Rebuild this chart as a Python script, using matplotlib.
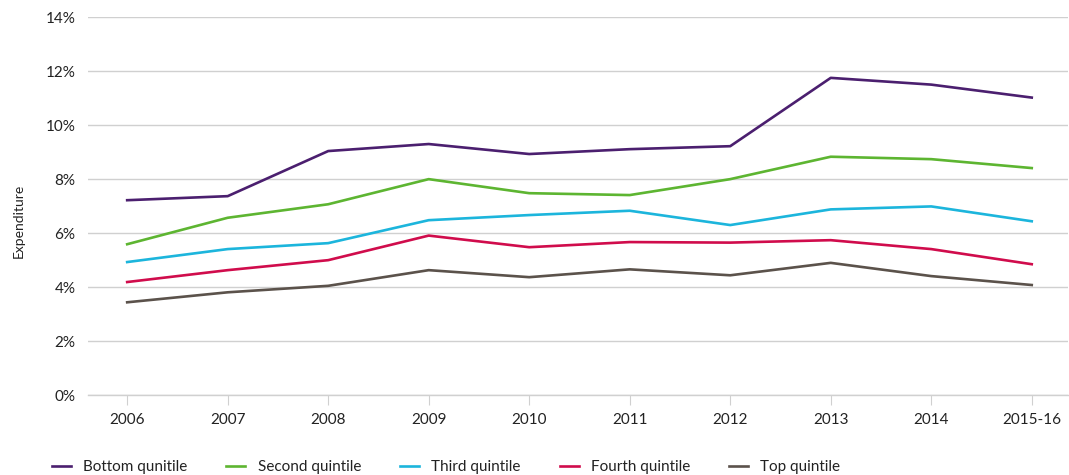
import matplotlib.pyplot as plt
from matplotlib.ticker import FuncFormatter

plt.rcParams["font.family"] = ["Lato", "DejaVu Sans"]

years = ["2006", "2007", "2008", "2009", "2010", "2011", "2012", "2013", "2014", "2015-16"]
bottom = [7.22, 7.37, 9.04, 9.30, 8.93, 9.11, 9.22, 11.75, 11.50, 11.02]
second = [5.59, 6.57, 7.07, 8.00, 7.48, 7.41, 8.00, 8.83, 8.74, 8.41]
third = [4.93, 5.41, 5.63, 6.48, 6.67, 6.83, 6.30, 6.88, 6.99, 6.44]
fourth = [4.19, 4.63, 5.00, 5.91, 5.48, 5.67, 5.65, 5.74, 5.41, 4.85]
top = [3.44, 3.81, 4.05, 4.63, 4.37, 4.66, 4.44, 4.90, 4.41, 4.08]

series = [
    ("Bottom qunitile", bottom, "#4b1f6f"),
    ("Second quintile", second, "#5db531"),
    ("Third quintile", third, "#1cb5dc"),
    ("Fourth quintile", fourth, "#d00c4c"),
    ("Top quintile", top, "#5b524b"),
]

fig = plt.figure(figsize=(10.69, 4.75), dpi=100)
ax = fig.add_axes([0.0823, 0.168, 0.9167, 0.796])

x = range(len(years))
for label, values, color in series:
    ax.plot(x, values, color=color, linewidth=1.9, label=label)

ax.set_ylim(0, 14)
ax.set_yticks(range(0, 15, 2))
ax.yaxis.set_major_formatter(FuncFormatter(lambda v, p: f"{int(v)}%"))
ax.set_xlim(-0.39, len(years) - 1 + 0.36)
ax.set_xticks(list(x))
ax.set_xticklabels(years)

ax.grid(axis="y", color="#d0d0d0", linewidth=1)
ax.set_axisbelow(True)
for side in ["top", "right", "left"]:
    ax.spines[side].set_visible(False)
ax.spines["bottom"].set_color("#d0d0d0")
ax.spines["bottom"].set_linewidth(1)
ax.tick_params(axis="y", length=0, pad=9, labelsize=11, labelcolor="#222222")
ax.tick_params(axis="x", length=7, color="#d0d0d0", pad=6, labelsize=11, labelcolor="#222222")

fig.text(0.012, 0.535, "Expenditure", rotation=90, va="center", ha="left",
         fontsize=10, color="#222222")

ax.legend(loc="upper left", bbox_to_anchor=(-0.051, -0.135), ncol=5, frameon=False,
          fontsize=11, handlelength=1.25, columnspacing=2.55, handletextpad=0.8,
          labelcolor="#222222")

fig.savefig("out.png", dpi=100)
